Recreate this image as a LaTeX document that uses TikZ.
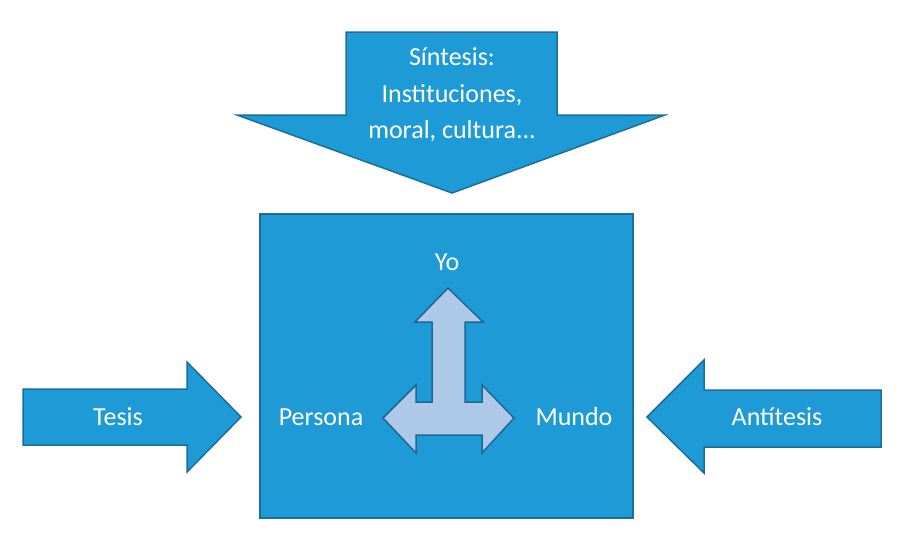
\documentclass[tikz,border=0pt]{standalone}
\usepackage{fontspec}
\setmainfont{Carlito}
\definecolor{mainblue}{HTML}{1E9BD7}
\definecolor{edgeblue}{HTML}{1B6E9C}
\definecolor{lightblue}{HTML}{AEC8E8}
\definecolor{inneredge}{HTML}{1D6792}
\begin{document}
\begin{tikzpicture}[x=1pt,y=-1pt,
  bigshape/.style={fill=mainblue,draw=edgeblue,line width=1.5pt,line join=miter},
  innershape/.style={fill=lightblue,draw=inneredge,line width=1.5pt,line join=miter},
  label/.style={text=white,font=\fontsize{26}{36.5}\selectfont,align=center,inner sep=0pt}]
\useasboundingbox (0,0) rectangle (900,550);
% top arrow
\draw[bigshape] (346,32) -- (557,32) -- (557,115) -- (665,115) -- (452,193) -- (237,115) -- (346,115) -- cycle;
\node[label] (sintesis) at (452,95) {Síntesis:\\Instituciones,\\moral, cultura...};
% central box
\draw[bigshape] (260,214) rectangle (633,518);
% inner T-arrow
\draw[innershape] (448,288) -- (483,322) -- (465,322) -- (465,402) -- (482,402) -- (482,385) -- (514,418)
  -- (482,453) -- (482,435) -- (416,435) -- (416,453) -- (383,418) -- (416,385) -- (416,402) -- (432,402)
  -- (432,322) -- (415,322) -- cycle;
\node[label] (yo) at (447,262) {Yo};
\node[label] (persona) at (321,417) {Persona};
\node[label] (mundo) at (574,417) {Mundo};
% left arrow
\draw[bigshape] (23,389) -- (187,389) -- (187,362) -- (241,417) -- (187,472) -- (187,445) -- (23,445) -- cycle;
\node[label] (tesis) at (118,417) {Tesis};
% right arrow
\draw[bigshape] (881,390) -- (704,390) -- (704,360) -- (647,417) -- (704,473) -- (704,447) -- (881,447) -- cycle;
\node[label] (antitesis) at (777,417) {Antítesis};
\end{tikzpicture}
\end{document}
